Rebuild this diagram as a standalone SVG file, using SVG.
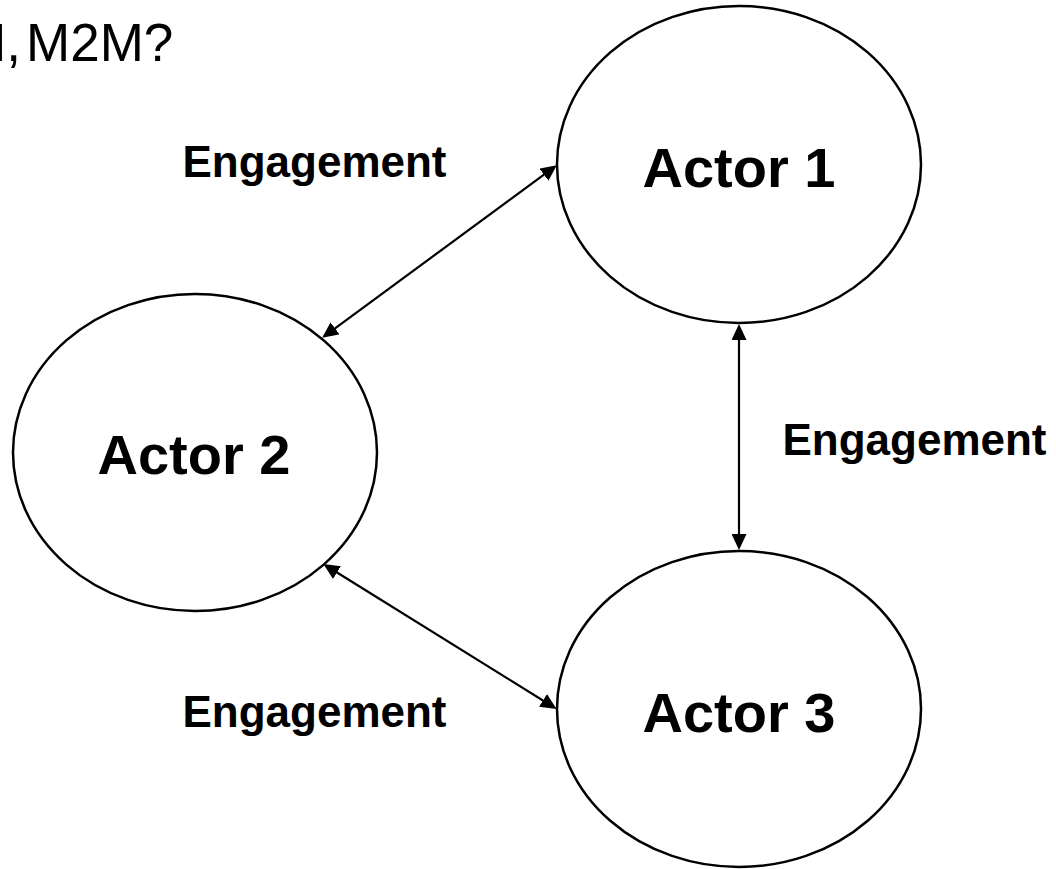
<svg xmlns="http://www.w3.org/2000/svg" width="1056" height="869" viewBox="0 0 1056 869">
  <style>
    .actor { fill: #ffffff; stroke: #000000; stroke-width: 2.5; }
    .actor-label { font-family: "Liberation Sans", Arial, sans-serif; font-weight: bold; font-size: 56px; fill: #000000; text-anchor: middle; }
    .edge { stroke: #000000; stroke-width: 2.2; fill: none; marker-start: url(#arrow); marker-end: url(#arrow); }
    .edge-label { font-family: "Liberation Sans", Arial, sans-serif; font-weight: bold; font-size: 44px; fill: #000000; text-anchor: middle; }
    .heading { font-family: "Liberation Sans", Arial, sans-serif; font-size: 53px; fill: #000000; }
  </style>
  <defs>
    <marker id="arrow" markerUnits="userSpaceOnUse" viewBox="0 0 16 15" markerWidth="16" markerHeight="15" refX="8" refY="7.5" orient="auto-start-reverse">
      <path d="M0,0 L16,7.5 L0,15 Z" fill="#000000"/>
    </marker>
  </defs>
  <rect width="1056" height="869" fill="#ffffff"/>

  <!-- heading, running off the left edge -->
  <text class="heading" y="61"><tspan x="-32">H,</tspan><tspan x="26">M2M?</tspan></text>

  <!-- connectors -->
  <g id="connectors">
    <line class="edge" x1="550.4" y1="169.9" x2="328.6" y2="333.1"/>
    <line class="edge" x1="739" y1="332" x2="739" y2="542"/>
    <line class="edge" x1="330.2" y1="568.3" x2="549.8" y2="704.7"/>
    <text class="edge-label" x="314.5" y="177">Engagement</text>
    <text class="edge-label" x="914.5" y="455">Engagement</text>
    <text class="edge-label" x="314.5" y="727">Engagement</text>
  </g>

  <g id="actor1">
    <ellipse class="actor" cx="739" cy="164.5" rx="182" ry="158.5"/>
    <text class="actor-label" x="739" y="187">Actor 1</text>
  </g>
  <g id="actor2">
    <ellipse class="actor" cx="195" cy="452.5" rx="182" ry="158.5"/>
    <text class="actor-label" x="194" y="474">Actor 2</text>
  </g>
  <g id="actor3">
    <ellipse class="actor" cx="739" cy="709" rx="182" ry="158"/>
    <text class="actor-label" x="739" y="732">Actor 3</text>
  </g>
</svg>
